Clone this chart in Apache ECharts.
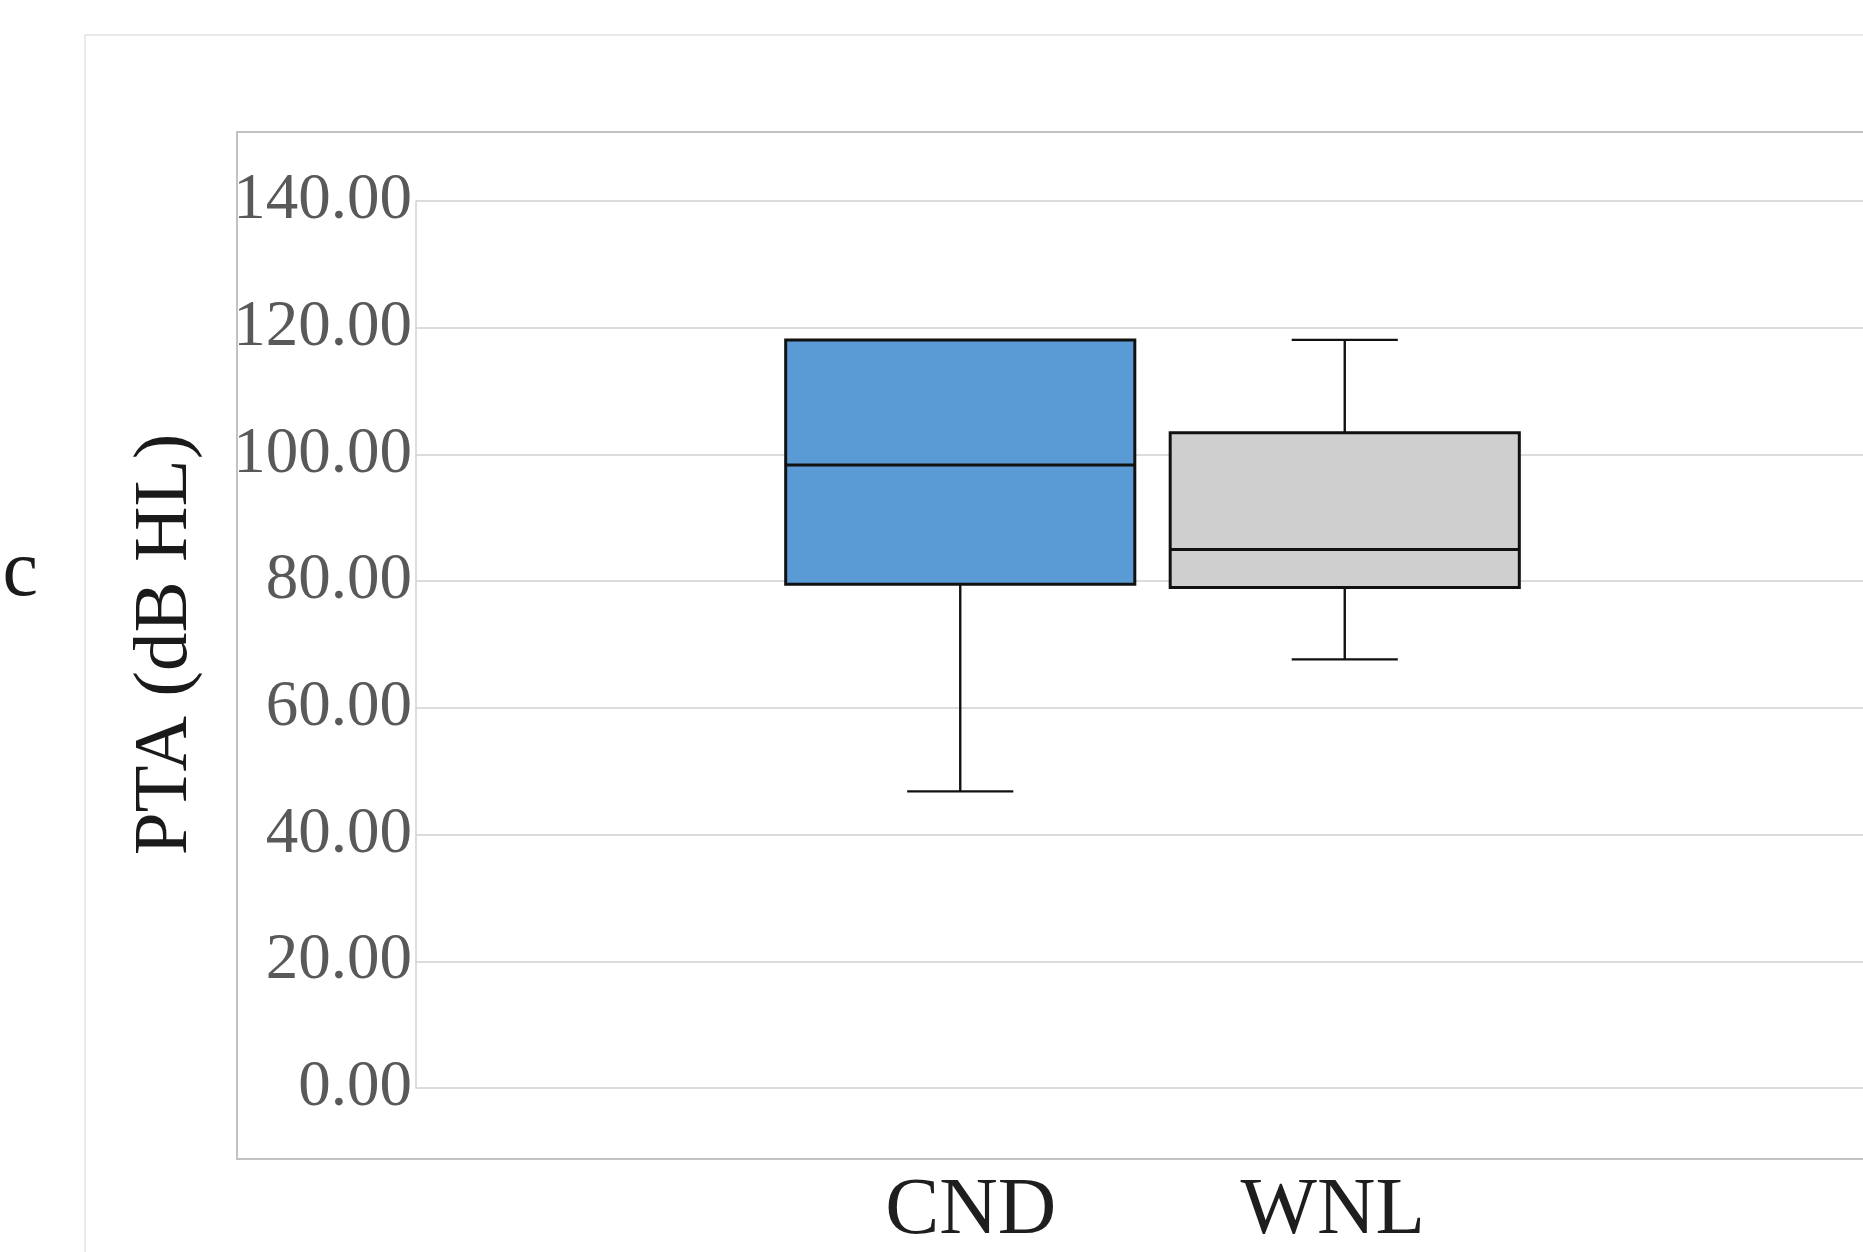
<!DOCTYPE html>
<html><head><meta charset="utf-8">
<script src="https://cdn.jsdelivr.net/npm/echarts@6/dist/echarts.min.js"></script>
<style>html,body{margin:0;padding:0;background:#fff;overflow:hidden}#c{width:1863px;height:1252px}</style>
</head><body><div id="c"></div>
<script>
// Data
const categories = ['CND', 'WNL'];
const lowerWhisker = [46.5, 67.4];
const q1 = [79.3, 78.8];
const median = [98.2, 84.8];
const q3 = [118.0, 103.3];
const upperWhisker = [118.0, 118.0];
const boxColors = ['#5B9BD5', '#D0CFD0'];
const yMin = 0, yMax = 140, yStep = 20;
const yTitle = 'PTA (dB HL)';

const FONT = '"Liberation Serif", "DejaVu Serif", serif';
const chart = echarts.init(document.getElementById('c'), null, {renderer: 'canvas'});

const boxData = categories.map((c, i) => [i, lowerWhisker[i], q1[i], median[i], q3[i], upperWhisker[i]]);

const TOP = 201, BOTTOM = 164;
const catLabelStyle = {fontFamily: FONT, fontSize: 81, color: '#1e1e1e', lineHeight: 81};

chart.setOption({
  animation: false,
  backgroundColor: '#ffffff',
  graphic: [
    {type: 'rect', z: -10, shape: {x: 85, y: 35, width: 2000, height: 2000}, style: {fill: 'none', stroke: '#e3e3e3', lineWidth: 1.5}},
    {type: 'rect', z: -10, shape: {x: 237, y: 132, width: 1800, height: 1027}, style: {fill: 'none', stroke: '#c2c2c2', lineWidth: 2}},
    {type: 'text', z: 10, style: {text: 'c', x: 38, y: 534, textAlign: 'right', font: '80px ' + FONT, fill: '#1a1a1a'}}
  ],
  grid: [
    {left: 416, right: -20, top: TOP, bottom: BOTTOM, containLabel: false},
    {left: 768, width: 769, top: TOP, bottom: BOTTOM, containLabel: false}
  ],
  xAxis: [
    {gridIndex: 0, type: 'category', data: categories, show: false},
    {gridIndex: 1, type: 'category', data: categories,
     axisLine: {show: false}, axisTick: {show: false}, splitLine: {show: false},
     axisLabel: {margin: 86,
       formatter: (v, i) => i === 0 ? '{a|' + v + '}' : '{b|' + v + '}',
       rich: {
         a: Object.assign({padding: [0, 0, 0, 21]}, catLabelStyle),
         b: Object.assign({padding: [0, 24, 0, 0]}, catLabelStyle)
       }}}
  ],
  yAxis: [
    {gridIndex: 0, type: 'value', min: yMin, max: yMax, interval: yStep,
     name: yTitle, nameLocation: 'middle', nameGap: 212, nameRotate: 90,
     nameTextStyle: {fontFamily: FONT, fontSize: 77, color: '#1a1a1a'},
     axisLine: {show: true, lineStyle: {color: '#d2d2d2', width: 1.5}},
     axisTick: {show: false},
     axisLabel: {fontFamily: FONT, fontSize: 65, color: '#595959', margin: 4,
                 formatter: v => v.toFixed(2)},
     splitLine: {show: true, lineStyle: {color: '#dcdcdc', width: 2}}},
    {gridIndex: 1, type: 'value', min: yMin, max: yMax, interval: yStep, show: false, splitLine: {show: false}}
  ],
  series: [{
    type: 'custom',
    xAxisIndex: 1, yAxisIndex: 1,
    data: boxData,
    encode: {x: 0, y: [1, 2, 3, 4, 5]},
    renderItem: function (params, api) {
      const i = api.value(0);
      const band = api.size([1, 0])[0];
      const bw = band * 0.908, cw = band * 0.276;
      const pLo = api.coord([i, api.value(1)]);
      const pQ1 = api.coord([i, api.value(2)]);
      const pMed = api.coord([i, api.value(3)]);
      const pQ3 = api.coord([i, api.value(4)]);
      const pHi = api.coord([i, api.value(5)]);
      const cx = pLo[0];
      const lineStyle = {stroke: '#111', lineWidth: 2.4};
      const boxStroke = {stroke: '#111', lineWidth: 3};
      const children = [
        {type: 'line', shape: {x1: cx, y1: pQ1[1], x2: cx, y2: pLo[1]}, style: lineStyle},
        {type: 'line', shape: {x1: cx - cw / 2, y1: pLo[1], x2: cx + cw / 2, y2: pLo[1]}, style: lineStyle},
        {type: 'line', shape: {x1: cx, y1: pQ3[1], x2: cx, y2: pHi[1]}, style: lineStyle},
        {type: 'rect', shape: {x: cx - bw / 2, y: pQ3[1], width: bw, height: pQ1[1] - pQ3[1]},
         style: Object.assign({fill: boxColors[i]}, boxStroke)},
        {type: 'line', shape: {x1: cx - bw / 2, y1: pMed[1], x2: cx + bw / 2, y2: pMed[1]}, style: boxStroke}
      ];
      if (Math.abs(pHi[1] - pQ3[1]) > 1) {
        children.push({type: 'line', shape: {x1: cx - cw / 2, y1: pHi[1], x2: cx + cw / 2, y2: pHi[1]}, style: lineStyle});
      }
      return {type: 'group', children: children};
    }
  }]
});
</script>
</body></html>
